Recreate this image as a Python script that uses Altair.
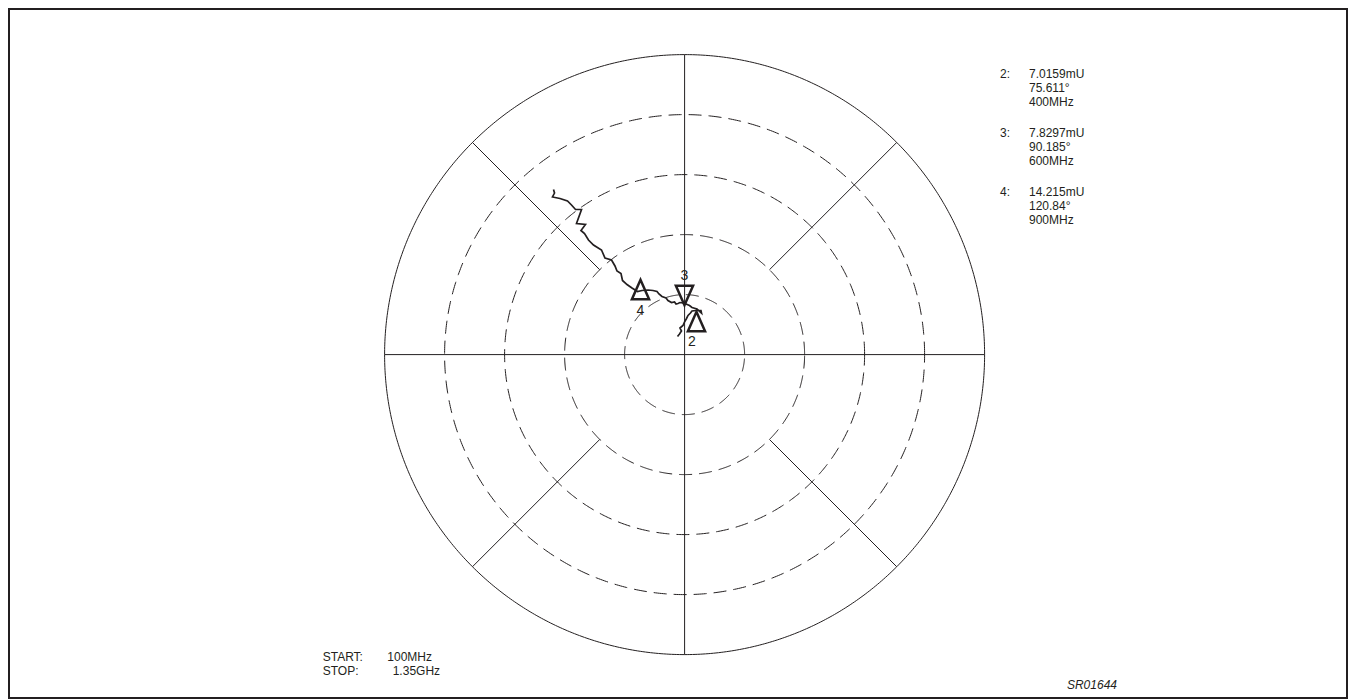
import altair as alt
import pandas as pd
import numpy as np

# ---------------- data ----------------
# Trace: real / imaginary part in mU, from START (100 MHz) to STOP (1.35 GHz)
trace_re = [-1.18, -0.85, -0.52, -0.77, -0.27, -0.02, 0.32, 0.57, 0.98, 1.23,
            1.90, 2.73, 2.82, 2.07, 1.23, 0.82, 0.23, -0.27, -0.77, -1.10,
            -1.43, -1.68, -2.18, -2.77, -3.10, -3.77, -4.27, -4.60, -5.27, -6.10,
            -7.10, -7.85, -8.77, -9.60, -10.35, -10.60, -11.27, -11.60, -12.18, -13.27,
            -13.85, -15.18, -16.02, -16.68, -17.27, -16.52, -18.02, -17.18, -18.18, -18.85,
            -19.52, -20.77, -22.02, -21.68, -21.85]
trace_im = [3.02, 3.43, 3.93, 4.43, 4.85, 5.43, 6.02, 6.52, 6.93, 7.27,
            7.35, 7.35, 6.93, 7.60, 7.85, 8.18, 8.43, 8.60, 8.68, 8.52,
            8.43, 8.77, 8.68, 9.02, 9.43, 9.68, 10.10, 10.52, 10.68, 10.77,
            10.68, 10.52, 11.10, 11.68, 12.35, 13.52, 13.93, 14.77, 15.77, 16.10,
            17.43, 18.27, 19.10, 20.18, 20.68, 21.68, 21.85, 24.18, 24.18, 24.93,
            25.60, 26.02, 26.27, 26.93, 27.52]

marker_ids = ["2", "3", "4"]
marker_re = [1.98, -0.02, -7.35]
marker_im = [5.52, 9.85, 10.85]
marker_dir = ["up", "down", "up"]

readout_mag = ["7.0159mU", "7.8297mU", "14.215mU"]
readout_ang = ["75.611°", "90.185°", "120.84°"]
readout_freq = ["400MHz", "600MHz", "900MHz"]

start_text = ["START:", "100MHz"]
stop_text = ["STOP:", "1.35GHz"]
figure_id = "SR01644"

ring_radii = [10, 20, 30, 40, 50]        # mU
spoke_angles = [45, 135, 225, 315]       # degrees

# ---------------- layout ----------------
INK = "#231f20"
FONT = "Liberation Sans"
W, H = 1338, 689
CX, CY = 675.6, 345.6      # centre of the polar grid in plot pixels
S = 6.0                    # pixels per mU
xs = alt.Scale(domain=[-CX / S, (W - CX) / S], nice=False, zero=False)
ys = alt.Scale(domain=[-(H - CY) / S, CY / S], nice=False, zero=False)

def X(f):
    return alt.X(f, type="quantitative", scale=xs, axis=None)

def Y(f):
    return alt.Y(f, type="quantitative", scale=ys, axis=None)

# rings
t = np.linspace(0, 2 * np.pi, 721)
ring_rows = []
for r in ring_radii:
    for k, a in enumerate(t):
        ring_rows.append({"ring": r, "k": k, "x": r * np.cos(a), "y": r * np.sin(a)})
ring_df = pd.DataFrame(ring_rows)
Rmax = max(ring_radii)

dashed = alt.Chart(ring_df[ring_df.ring < Rmax]).mark_line(
    color=INK, strokeWidth=1, strokeDash=[13, 7]
).encode(x=X("x"), y=Y("y"), detail="ring:N", order="k:Q")
outer = alt.Chart(ring_df[ring_df.ring == Rmax]).mark_line(
    color=INK, strokeWidth=1
).encode(x=X("x"), y=Y("y"), order="k:Q")

# spokes
sp = [{"x1": -Rmax, "y1": 0, "x2": Rmax, "y2": 0},
      {"x1": 0, "y1": -Rmax, "x2": 0, "y2": Rmax}]
for a in spoke_angles:
    c, s_ = np.cos(np.radians(a)), np.sin(np.radians(a))
    sp.append({"x1": ring_radii[1] * c, "y1": ring_radii[1] * s_,
               "x2": Rmax * c, "y2": Rmax * s_})
spokes = alt.Chart(pd.DataFrame(sp)).mark_rule(color=INK, strokeWidth=1).encode(
    x=X("x1"), y=Y("y1"), x2="x2:Q", y2="y2:Q")

# trace
trace_df = pd.DataFrame({"i": range(len(trace_re)), "re": trace_re, "im": trace_im})
trace = alt.Chart(trace_df).mark_line(color=INK, strokeWidth=1.7, strokeJoin="miter").encode(
    x=X("re"), y=Y("im"), order="i:Q")

# markers
mk = pd.DataFrame({"id": marker_ids, "re": marker_re, "im": marker_im, "dir": marker_dir})
UP = "M-0.78,0.88L0,-0.88L0.78,0.88Z"
DOWN = "M-0.78,-0.88L0.78,-0.88L0,0.88Z"
m_up = alt.Chart(mk[mk.dir == "up"]).mark_point(
    shape=UP, size=484, filled=False, color=INK, strokeWidth=2.5, opacity=1
).encode(x=X("re"), y=Y("im"))
m_down = alt.Chart(mk[mk.dir == "down"]).mark_point(
    shape=DOWN, size=484, filled=False, color=INK, strokeWidth=2.5, opacity=1
).encode(x=X("re"), y=Y("im"))

label_offsets = {"2": (-4.5, 21), "3": (0, -20), "4": (0, 21)}
labels = []
for mid in marker_ids:
    dx, dy = label_offsets[mid]
    labels.append(alt.Chart(mk[mk.id == mid]).mark_text(
        font=FONT, fontSize=14, fill=INK, dx=dx, dy=dy, baseline="middle", align="center"
    ).encode(x=X("re"), y=Y("im"), text="id:N"))

one = pd.DataFrame({"a": [0]})

def txt(s, x, y, align="left", italic=False, lh=14):
    kw = dict(font=FONT, fontSize=12, fill=INK, align=align, baseline="alphabetic",
              lineBreak="\n", lineHeight=lh)
    if italic:
        kw["fontStyle"] = "italic"
    return alt.Chart(one).mark_text(**kw).encode(
        x=alt.value(x), y=alt.value(y), text=alt.value(s))

texts = []
group_y = [69.3, 128.3, 187.3]
for i, mid in enumerate(marker_ids):
    texts.append(txt(mid + ":", 991, group_y[i]))
    texts.append(txt(readout_mag[i] + "\n" + readout_ang[i] + "\n" + readout_freq[i],
                     1020, group_y[i]))
texts.append(txt(start_text[0], 313.7, 652))
texts.append(txt(start_text[1], 378.3, 652))
texts.append(txt(stop_text[0], 313.7, 666))
texts.append(txt(stop_text[1], 383.7, 666))
texts.append(txt(figure_id, 1108, 679.5, align="right", italic=True))

chart = alt.layer(dashed, outer, spokes, trace, m_up, m_down, *labels, *texts).properties(
    width=W, height=H,
    padding={"left": 1, "top": 1, "right": 1, "bottom": 1},
    autosize=alt.AutoSizeParams(type="none"),
    background="white",
).configure_view(stroke=INK, strokeWidth=2)

chart.save("out.html", embed_options={"renderer": "svg", "actions": False})
